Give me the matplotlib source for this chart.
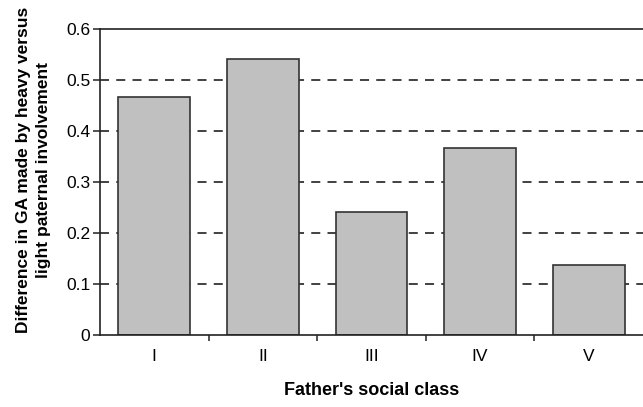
import matplotlib
matplotlib.use("Agg")
import matplotlib.pyplot as plt

categories = ["I", "II", "III", "IV", "V"]
values = [0.466, 0.541, 0.241, 0.367, 0.137]
yticks = [0, 0.1, 0.2, 0.3, 0.4, 0.5, 0.6]
yticklabels = ["0", "0.1", "0.2", "0.3", "0.4", "0.5", "0.6"]

plt.rcParams['font.family'] = ['Liberation Sans', 'DejaVu Sans']
fig = plt.figure(figsize=(6.43, 4.07), dpi=100)
ax = fig.add_axes([0.1555, 0.177, 0.8445, 0.752])

x = list(range(len(categories)))
for yv in yticks[1:-1]:
    ax.axhline(yv, color='#333333', lw=1.3, ls=(0, (5, 4)), zorder=1)
ax.bar(x, values, width=0.66, color='#c0c0c0', edgecolor='#333333', linewidth=1.2, zorder=2)

ax.set_xlim(-0.5, 4.5)
ax.set_ylim(0, 0.6)
ax.set_yticks(yticks)
ax.set_yticklabels(yticklabels, fontsize=12.5)
ax.set_xticks([i + 0.5 for i in range(len(categories) - 1)])
ax.set_xticklabels([])
ax.set_xticks(x, minor=True)
ax.set_xticklabels(categories, minor=True, fontsize=12.5)
ax.tick_params(axis='x', which='minor', length=0, pad=10)
ax.tick_params(axis='x', which='major', length=4, width=1.2, direction='out', color='#333333')
ax.tick_params(axis='y', length=5, width=1.2, direction='out', color='#333333', pad=2)

ax.spines['right'].set_visible(False)
for s in ['left', 'bottom', 'top']:
    ax.spines[s].set_linewidth(1.2)
    ax.spines[s].set_color('#222222')

ax.set_ylabel("Difference in GA made by heavy versus\nlight paternal involvement",
              fontsize=12.5, fontweight='bold', linespacing=1.45)
ax.yaxis.set_label_coords(-0.09, 0.54)
ax.set_xlabel("Father's social class", fontsize=13, fontweight='bold', labelpad=13)

fig.savefig("out.png", dpi=100)
